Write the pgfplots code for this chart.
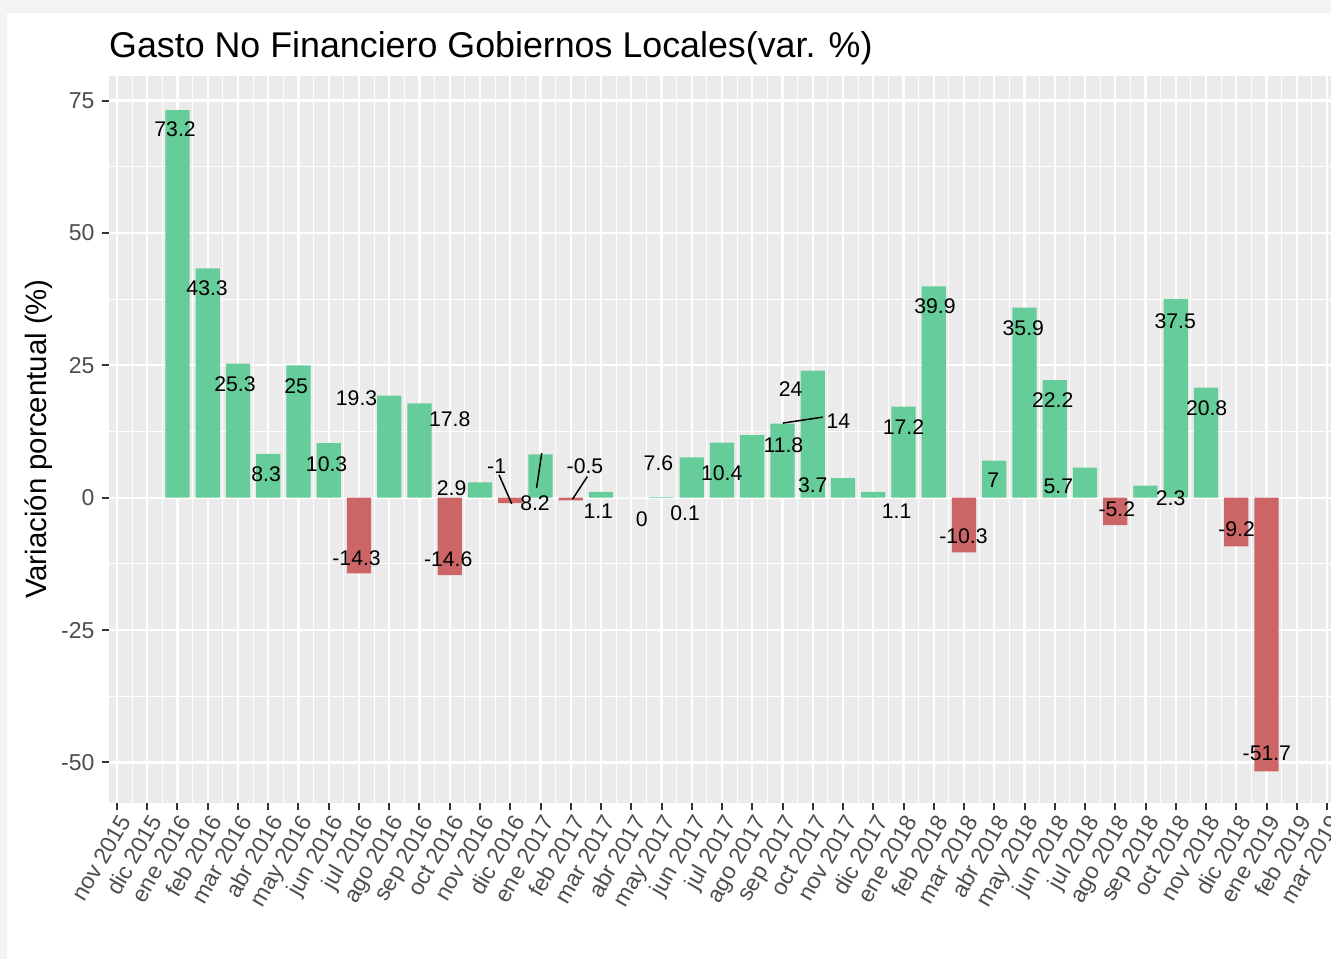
\documentclass[border=0pt]{standalone}
\usepackage{pgfplots}
\pgfplotsset{compat=1.18}
\usepackage{pgfplotstable}
\usepackage{fontspec}
\setmainfont{Liberation Sans}
\definecolor{posgreen}{HTML}{66CC99}
\definecolor{negred}{HTML}{CC6666}
\definecolor{panelgray}{HTML}{EBEBEB}
\definecolor{ticklab}{HTML}{4D4D4D}
\definecolor{tickmark}{HTML}{333333}
\definecolor{framegray}{HTML}{F3F3F3}
\tikzset{lab/.style={font=\fontsize{10.6}{12}\selectfont, inner sep=0pt, text=black}}

\pgfplotstableread{
x y
2 73.2
3 43.3
4 25.3
5 8.3
6 25
7 10.3
9 19.3
10 17.8
12 2.9
14 8.2
16 1.1
17 0
18 0.1
19 7.6
20 10.4
21 11.8
22 14
23 24
24 3.7
25 1.1
26 17.2
27 39.9
29 7
30 35.9
31 22.2
32 5.7
34 2.3
35 37.5
36 20.8
}\posdata
\pgfplotstableread{
x y
8 -14.3
11 -14.6
13 -1
15 -0.5
28 -10.3
33 -5.2
37 -9.2
38 -51.7
}\negdata

\begin{document}
\begin{tikzpicture}
\fill[framegray] (0,0) rectangle (665.5pt,-479.5pt);
\fill[white] (3.5pt,-6.5pt) rectangle (665.5pt,-479.5pt);
\begin{axis}[
  at={(54.25pt,-401.35pt)}, anchor=south west,
  scale only axis, width=613.5pt, height=363.5pt,
  xmin=-0.28, xmax=40.28, ymin=-57.6, ymax=79.7,
  axis background/.style={fill=panelgray},
  axis line style={draw=none},
  ybar, bar width=0.8, bar shift=0pt,
  tick pos=left, tick align=outside,
  major tick length=3.5pt, minor tick length=0pt,
  major tick style={draw=tickmark, line width=1pt},
  grid=both,
  major grid style={white, line width=1.1pt},
  minor grid style={white, line width=0.55pt},
  xtick={0,1,...,40},
  minor xtick={0.5,1.5,...,39.5},
  xticklabels={nov 2015,dic 2015,ene 2016,feb 2016,mar 2016,abr 2016,may 2016,jun 2016,jul 2016,ago 2016,sep 2016,oct 2016,nov 2016,dic 2016,ene 2017,feb 2017,mar 2017,abr 2017,may 2017,jun 2017,jul 2017,ago 2017,sep 2017,oct 2017,nov 2017,dic 2017,ene 2018,feb 2018,mar 2018,abr 2018,may 2018,jun 2018,jul 2018,ago 2018,sep 2018,oct 2018,nov 2018,dic 2018,ene 2019,feb 2019,mar 2019},
  ytick={-50,-25,0,25,50,75},
  yticklabels={-50,-25,0,25,50,75},
  minor ytick={-37.5,-12.5,12.5,37.5,62.5},
  xticklabel style={rotate=60, anchor=north east, text=ticklab, font=\fontsize{11.5}{13}\selectfont, inner sep=1pt},
  yticklabel style={text=ticklab, font=\fontsize{11.5}{13}\selectfont},
]
\addplot[fill=posgreen, draw=none] table[x=x,y=y]{\posdata};
\addplot[fill=negred, draw=none] table[x=x,y=y]{\negdata};

\draw[line width=0.75pt] (axis cs:12.63,4.32) -- (axis cs:13.05,-1.15);
\draw[line width=0.75pt] (axis cs:14.04,8.42) -- (axis cs:13.87,1.81);
\draw[line width=0.75pt] (axis cs:15.55,4.0) -- (axis cs:15.06,-0.26);
\draw[line width=0.75pt] (axis cs:22.01,14.09) -- (axis cs:23.33,15.22);

\node[lab] at (axis cs:1.92,69.5) {73.2};
\node[lab] at (axis cs:2.98,39.5) {43.3};
\node[lab] at (axis cs:3.9,21.5) {25.3};
\node[lab] at (axis cs:4.93,4.5) {8.3};
\node[lab] at (axis cs:5.92,21.1) {25};
\node[lab] at (axis cs:6.93,6.3) {10.3};
\node[lab] at (axis cs:7.92,-11.4) {-14.3};
\node[lab] at (axis cs:7.92,18.7) {19.3};
\node[lab] at (axis cs:11.0,14.8) {17.8};
\node[lab] at (axis cs:10.95,-11.6) {-14.6};
\node[lab] at (axis cs:11.06,1.8) {2.9};
\node[lab] at (axis cs:12.55,6.0) {-1};
\node[lab] at (axis cs:13.82,-1.1) {8.2};
\node[lab] at (axis cs:15.47,6.0) {-0.5};
\node[lab] at (axis cs:15.91,-2.6) {1.1};
\node[lab] at (axis cs:17.35,-4.0) {0};
\node[lab] at (axis cs:18.78,-2.9) {0.1};
\node[lab] at (axis cs:17.9,6.5) {7.6};
\node[lab] at (axis cs:19.99,4.6) {10.4};
\node[lab] at (axis cs:22.03,10.0) {11.8};
\node[lab] at (axis cs:22.27,20.5) {24};
\node[lab] at (axis cs:23.85,14.5) {14};
\node[lab] at (axis cs:23.0,2.4) {3.7};
\node[lab] at (axis cs:25.77,-2.6) {1.1};
\node[lab] at (axis cs:26.0,13.3) {17.2};
\node[lab] at (axis cs:27.04,36.1) {39.9};
\node[lab] at (axis cs:27.98,-7.2) {-10.3};
\node[lab] at (axis cs:28.97,3.25) {7};
\node[lab] at (axis cs:29.96,32.0) {35.9};
\node[lab] at (axis cs:30.93,18.35) {22.2};
\node[lab] at (axis cs:31.12,2.1) {5.7};
\node[lab] at (axis cs:33.05,-2.15) {-5.2};
\node[lab] at (axis cs:34.83,-0.08) {2.3};
\node[lab] at (axis cs:34.98,33.3) {37.5};
\node[lab] at (axis cs:36.02,16.9) {20.8};
\node[lab] at (axis cs:37.01,-5.9) {-9.2};
\node[lab] at (axis cs:38.01,-48.2) {-51.7};
\end{axis}
\node[anchor=base west, inner sep=0pt, font=\fontsize{17.9}{20}\selectfont] at (54.4pt,-28.5pt) {Gasto No Financiero Gobiernos Locales(var. \%)};
\node[rotate=90, inner sep=0pt, font=\fontsize{14.7}{16}\selectfont] at (19.5pt,-219.5pt) {Variación porcentual (\%)};
\pgfresetboundingbox
\useasboundingbox (0,0) rectangle (665.5pt,-479.5pt);
\end{tikzpicture}
\end{document}
